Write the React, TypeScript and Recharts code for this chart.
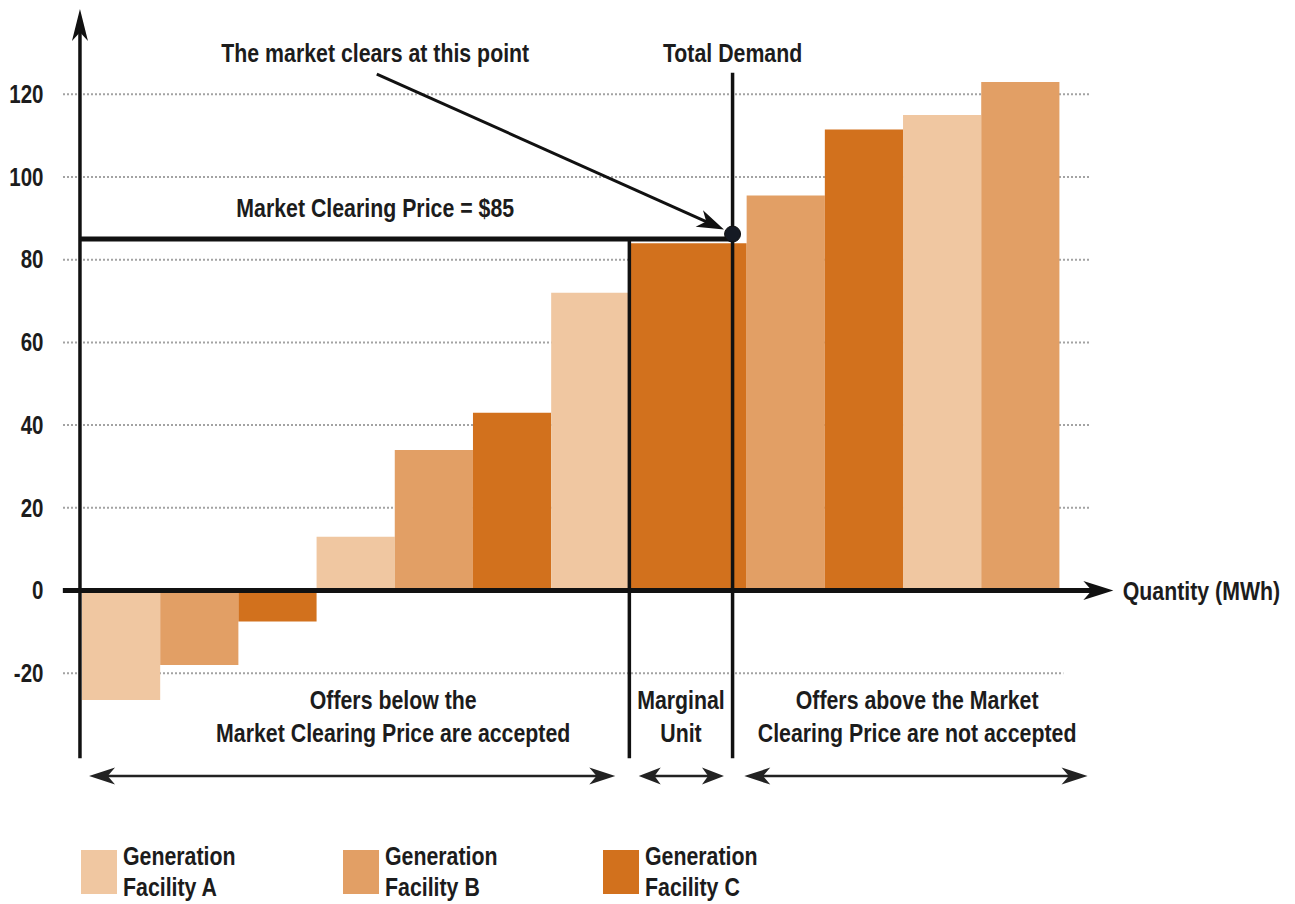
import React from 'react';
import { ComposedChart, XAxis, YAxis, ReferenceArea, ReferenceLine, ReferenceDot } from 'recharts';

// ---------- data ----------
const offerFacility = ['A', 'B', 'C', 'A', 'B', 'C', 'A', 'C', 'B', 'C', 'A', 'B'];
const offerQuantity = [10, 10, 10, 10, 10, 10, 10, 15, 10, 10, 10, 10];
const offerPrice = [-26.5, -18, -7.5, 13, 34, 43, 72, 84, 95.5, 111.5, 115, 123];
const yTickValues = [-20, 0, 20, 40, 60, 80, 100, 120];
const gridValues = [-20, 20, 40, 60, 80, 100, 120];
const clearingPrice = 85;
const totalDemand = 83.2;
const legendFacilities = ['A', 'B', 'C'];
const legendLabels = ['Facility A', 'Facility B', 'Facility C'];

// ---------- styles ----------
const FONT = "'Liberation Sans', Arial, Helvetica, sans-serif";
const SQUEEZE = 0.82;
const TEXT = '#1c1c1c';
const COLORS: Record<string, string> = { A: '#F0C7A1', B: '#E29F65', C: '#D2711D' };

const X_MIN = -2.5;
const X_MAX = 155;
const Y_MIN = -47;
const Y_MAX = 142;

// bars built from data
let acc = 0;
const bars = offerQuantity.map((q, i) => {
  const b = { x1: acc, x2: acc + q, price: offerPrice[i], fac: offerFacility[i] };
  acc += q;
  return b;
});
const marginalIndex = bars.findIndex((b) => b.x1 < totalDemand && b.x2 >= totalDemand);
const marginalStart = bars[marginalIndex].x1;

function arrowShape(heads: 'start' | 'end' | 'both', headLen: number, headW: number, sw: number, color: string) {
  return (p: any) => {
    const x1 = +p.x1, y1 = +p.y1, x2 = +p.x2, y2 = +p.y2;
    const dx = x2 - x1, dy = y2 - y1;
    const len = Math.hypot(dx, dy) || 1;
    const ux = dx / len, uy = dy / len;
    const nx = -uy, ny = ux;
    const head = (tx: number, ty: number, sx: number, sy: number) => {
      const bx = tx - sx * headLen, by = ty - sy * headLen;
      const mx = tx - sx * headLen * 0.72, my = ty - sy * headLen * 0.72;
      const pts = [
        [tx, ty],
        [bx + nx * headW / 2, by + ny * headW / 2],
        [mx, my],
        [bx - nx * headW / 2, by - ny * headW / 2],
      ];
      return <polygon points={pts.map((q) => q.join(',')).join(' ')} fill={color} stroke="none" />;
    };
    let lx1 = x1, ly1 = y1, lx2 = x2, ly2 = y2;
    const out: any[] = [];
    if (heads === 'end' || heads === 'both') {
      lx2 = x2 - ux * headLen * 0.7;
      ly2 = y2 - uy * headLen * 0.7;
      out.push(<g key="e">{head(x2, y2, ux, uy)}</g>);
    }
    if (heads === 'start' || heads === 'both') {
      lx1 = x1 + ux * headLen * 0.7;
      ly1 = y1 + uy * headLen * 0.7;
      out.push(<g key="s">{head(x1, y1, -ux, -uy)}</g>);
    }
    return (
      <g>
        <line x1={lx1} y1={ly1} x2={lx2} y2={ly2} stroke={color} strokeWidth={sw} />
        {out}
      </g>
    );
  };
}

function NarrowText(props: { x: number; y: number; lines: string[]; anchor: 'start' | 'middle' | 'end'; size: number; lineH: number }) {
  const { x, y, lines, anchor, size, lineH } = props;
  return (
    <g transform={`translate(${x},${y}) scale(${SQUEEZE},1)`}>
      <text x={0} y={0} textAnchor={anchor} fontFamily={FONT} fontSize={size} fontWeight={700} fill={TEXT}>
        {lines.map((l, i) => (
          <tspan key={i} x={0} dy={i === 0 ? '0.35em' : lineH}>
            {l}
          </tspan>
        ))}
      </text>
    </g>
  );
}

function textLabel(lines: string[], anchor: 'start' | 'middle' | 'end', size: number, lineH: number) {
  return (props: any) => {
    const vb = props.viewBox || {};
    const cx = (vb.x || 0) + (vb.width || 0) / 2;
    const cy = (vb.y || 0) + (vb.height || 0) / 2;
    return <NarrowText x={cx} y={cy} lines={lines} anchor={anchor} size={size} lineH={lineH} />;
  };
}

const annotations = [
  { x: 37.5, y: 130.1, lines: ['The market clears at this point'], anchor: 'middle' as const },
  { x: totalDemand, y: 130.1, lines: ['Total Demand'], anchor: 'middle' as const },
  { x: 37.5, y: 92.5, lines: ['Market Clearing Price = $85'], anchor: 'middle' as const },
  { x: 39.8, y: -26.5, lines: ['Offers below the', 'Market Clearing Price are accepted'], anchor: 'middle' as const },
  { x: 76.6, y: -26.5, lines: ['Marginal', 'Unit'], anchor: 'middle' as const },
  { x: 106.8, y: -26.5, lines: ['Offers above the Market', 'Clearing Price are not accepted'], anchor: 'middle' as const },
  { x: 133.1, y: 0, lines: ['Quantity (MWh)'], anchor: 'start' as const },
];

const renderTick = (props: any) => {
  const { x, y, payload } = props;
  return <NarrowText x={x} y={y} lines={[String(payload.value)]} anchor="end" size={25} lineH={0} />;
};

export default function App() {
  const axisX = -0.26;
  const lineBottom = -40.6;
  const arrowY = -44.9;
  return (
    <div style={{ position: 'absolute', left: 0, top: 0, width: 1295, height: 904, background: '#fff' }}>
      <ComposedChart width={1295} height={904} margin={{ top: 3.33, right: 1, bottom: 119.2, left: 2.45 }}>
        <XAxis type="number" dataKey="x" domain={[X_MIN, X_MAX]} allowDataOverflow hide />
        <YAxis
          type="number"
          domain={[Y_MIN, Y_MAX]}
          allowDataOverflow
          ticks={yTickValues}
          width={60}
          axisLine={false}
          tickLine={false}
          tickSize={0}
          tickMargin={19}
          tick={renderTick}
        />
        {gridValues.map((v) => (
          <ReferenceLine
            key={'g' + v}
            ifOverflow="visible"
            zIndex={-10}
            segment={[
              { x: -2.43, y: v },
              { x: v < 0 ? 125.5 : 128.9, y: v },
            ]}
            stroke="#a3a3a3"
            strokeWidth={2}
            strokeDasharray="2 2"
          />
        ))}
        {bars.map((b, i) => (
          <ReferenceArea
            key={'b' + i}
            ifOverflow="visible"
            x1={b.x1}
            x2={b.x2}
            y1={0}
            y2={b.price}
            fill={COLORS[b.fac]}
            fillOpacity={1}
            stroke="none"
          />
        ))}
        {/* y axis */}
        <ReferenceLine
          ifOverflow="visible"
          segment={[
            { x: axisX, y: lineBottom },
            { x: axisX, y: 140.6 },
          ]}
          shape={arrowShape('end', 32, 16, 3.5, '#111')}
        />
        {/* x axis */}
        <ReferenceLine
          ifOverflow="visible"
          segment={[
            { x: -2.45, y: 0 },
            { x: 131.9, y: 0 },
          ]}
          shape={arrowShape('end', 30, 19, 5, '#111')}
        />
        {/* clearing price line */}
        <ReferenceLine
          ifOverflow="visible"
          segment={[
            { x: axisX, y: clearingPrice },
            { x: totalDemand, y: clearingPrice },
          ]}
          stroke="#111"
          strokeWidth={5}
        />
        {/* marginal unit start */}
        <ReferenceLine
          ifOverflow="visible"
          segment={[
            { x: marginalStart, y: lineBottom },
            { x: marginalStart, y: clearingPrice },
          ]}
          stroke="#111"
          strokeWidth={3.5}
        />
        {/* total demand */}
        <ReferenceLine
          ifOverflow="visible"
          segment={[
            { x: totalDemand, y: lineBottom },
            { x: totalDemand, y: 125.2 },
          ]}
          stroke="#111"
          strokeWidth={3.5}
        />
        {/* pointer arrow */}
        <ReferenceLine
          ifOverflow="visible"
          segment={[
            { x: 37.7, y: 124.9 },
            { x: 82.1, y: 87.3 },
          ]}
          shape={arrowShape('end', 27, 18, 3, '#111')}
        />
        {/* bottom range arrows */}
        <ReferenceLine
          ifOverflow="visible"
          segment={[
            { x: 0.9, y: arrowY },
            { x: 68.2, y: arrowY },
          ]}
          shape={arrowShape('both', 26, 17, 2.5, '#222')}
        />
        <ReferenceLine
          ifOverflow="visible"
          segment={[
            { x: 71.2, y: arrowY },
            { x: 82.1, y: arrowY },
          ]}
          shape={arrowShape('both', 22, 17, 2.5, '#222')}
        />
        <ReferenceLine
          ifOverflow="visible"
          segment={[
            { x: 84.7, y: arrowY },
            { x: 128.6, y: arrowY },
          ]}
          shape={arrowShape('both', 26, 17, 2.5, '#222')}
        />
        <ReferenceDot ifOverflow="visible" x={totalDemand} y={86.2} r={8} fill="#151a24" stroke="#111" strokeWidth={1} />
        {annotations.map((a, i) => (
          <ReferenceDot
            key={'t' + i}
            ifOverflow="visible"
            x={a.x}
            y={a.y}
            r={0}
            fill="none"
            stroke="none"
            label={textLabel(a.lines, a.anchor, 26, 33)}
          />
        ))}
      </ComposedChart>
      {legendFacilities.map((f, i) => (
        <div key={f} style={{ position: 'absolute', left: [81, 343, 603][i], top: 850 }}>
          <div style={{ position: 'absolute', left: 0, top: 0, width: 36, height: 44, background: COLORS[f] }} />
          <div
            style={{
              position: 'absolute',
              left: 42,
              top: -9,
              fontFamily: FONT,
              fontWeight: 700,
              fontSize: 26,
              lineHeight: '31px',
              color: TEXT,
              whiteSpace: 'nowrap',
              transform: `scaleX(${SQUEEZE})`,
              transformOrigin: '0 0',
            }}
          >
            Generation
            <br />
            {legendLabels[i]}
          </div>
        </div>
      ))}
    </div>
  );
}
